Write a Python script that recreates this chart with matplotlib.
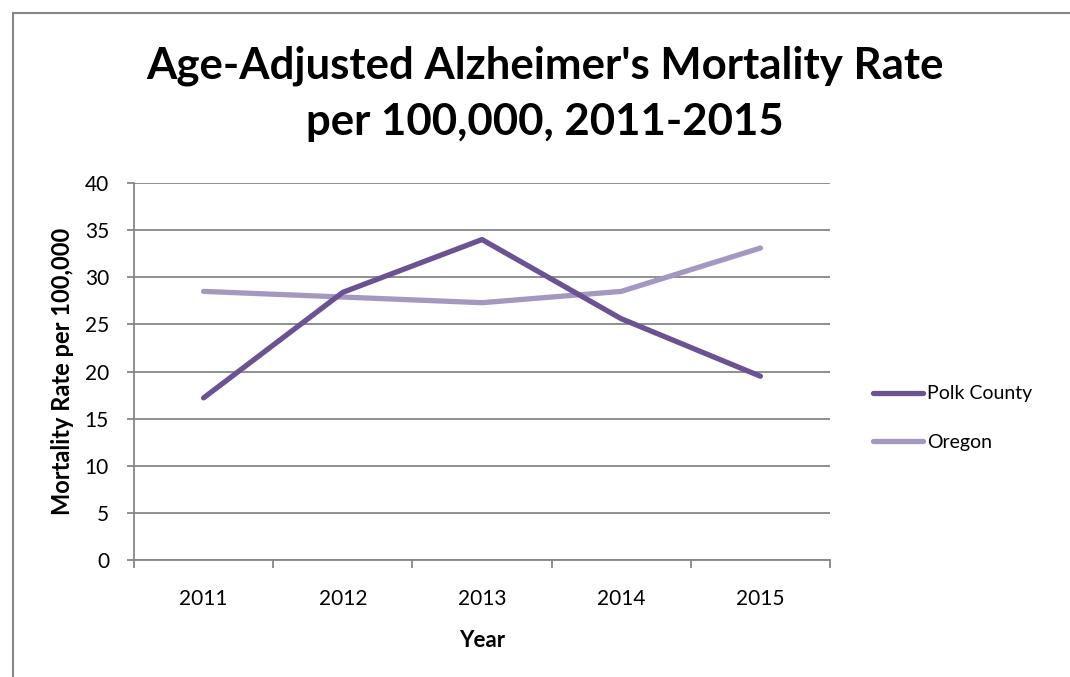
import matplotlib.pyplot as plt
from matplotlib.lines import Line2D

# data
years = ['2011', '2012', '2013', '2014', '2015']
polk_county = [17.2, 28.4, 34.0, 25.6, 19.5]
oregon = [28.5, 27.9, 27.3, 28.5, 33.1]

plt.rcParams['font.family'] = ['Lato', 'DejaVu Sans']

W, H = 1070, 677
fig = plt.figure(figsize=(W / 100, H / 100), dpi=100)

# outer chart frame: only top and left edges fall inside the image
fx, fy = 12.5 / W, 1 - 12.5 / H
fig.add_artist(Line2D([fx, 1.01], [fy, fy], transform=fig.transFigure,
                      color='#868686', lw=1.5))
fig.add_artist(Line2D([fx, fx], [-0.01, fy], transform=fig.transFigure,
                      color='#868686', lw=1.5))

# plot area in pixels: left 134, right 830, top 183, bottom 560
ax = fig.add_axes([134 / W, 1 - 560 / H, (830 - 134) / W, (560 - 183) / H])

x = range(len(years))
ax.plot(x, polk_county, color='#6A5293', lw=3.8, solid_capstyle='round',
        solid_joinstyle='round', label='Polk County', zorder=3)
ax.plot(x, oregon, color='#A598C0', lw=3.8, solid_capstyle='round',
        solid_joinstyle='round', label='Oregon', zorder=2)

ax.set_xlim(-0.5, len(years) - 0.5)
ax.set_ylim(0, 40)
ax.set_yticks(range(0, 41, 5))
ax.set_xticks(list(x))
ax.set_xticklabels(years)
ax.set_xticks([i - 0.5 for i in range(len(years) + 1)], minor=True)

ax.grid(axis='y', color='#868686', linewidth=1.3)
ax.set_axisbelow(True)
for s in ['top', 'right']:
    ax.spines[s].set_visible(False)
for s in ['left', 'bottom']:
    ax.spines[s].set_color('#868686')
    ax.spines[s].set_linewidth(1.3)

ax.tick_params(axis='y', length=5, width=1.3, color='#868686', labelsize=15,
               pad=13)
ax.tick_params(axis='x', which='major', length=0, labelsize=15, pad=21)
ax.tick_params(axis='x', which='minor', length=6, width=1.3, color='#868686')

ax.set_xlabel('Year', fontsize=16, fontweight='bold', labelpad=15)
ax.set_ylabel('Mortality Rate per 100,000', fontsize=17, fontweight='bold',
              labelpad=8)

fig.text(545 / W, 1 - 78 / H, "Age-Adjusted Alzheimer's Mortality Rate",
         ha='center', va='baseline', fontsize=31.5, fontweight='bold')
fig.text(545 / W, 1 - 135 / H, "per 100,000, 2011-2015",
         ha='center', va='baseline', fontsize=31.5, fontweight='bold')

fig.legend(loc='center left', bbox_to_anchor=(855 / W, 1 - 418 / H),
           frameon=False, fontsize=14, handlelength=2.6, handletextpad=0.2,
           labelspacing=1.6)

fig.savefig('out.png', dpi=100)
